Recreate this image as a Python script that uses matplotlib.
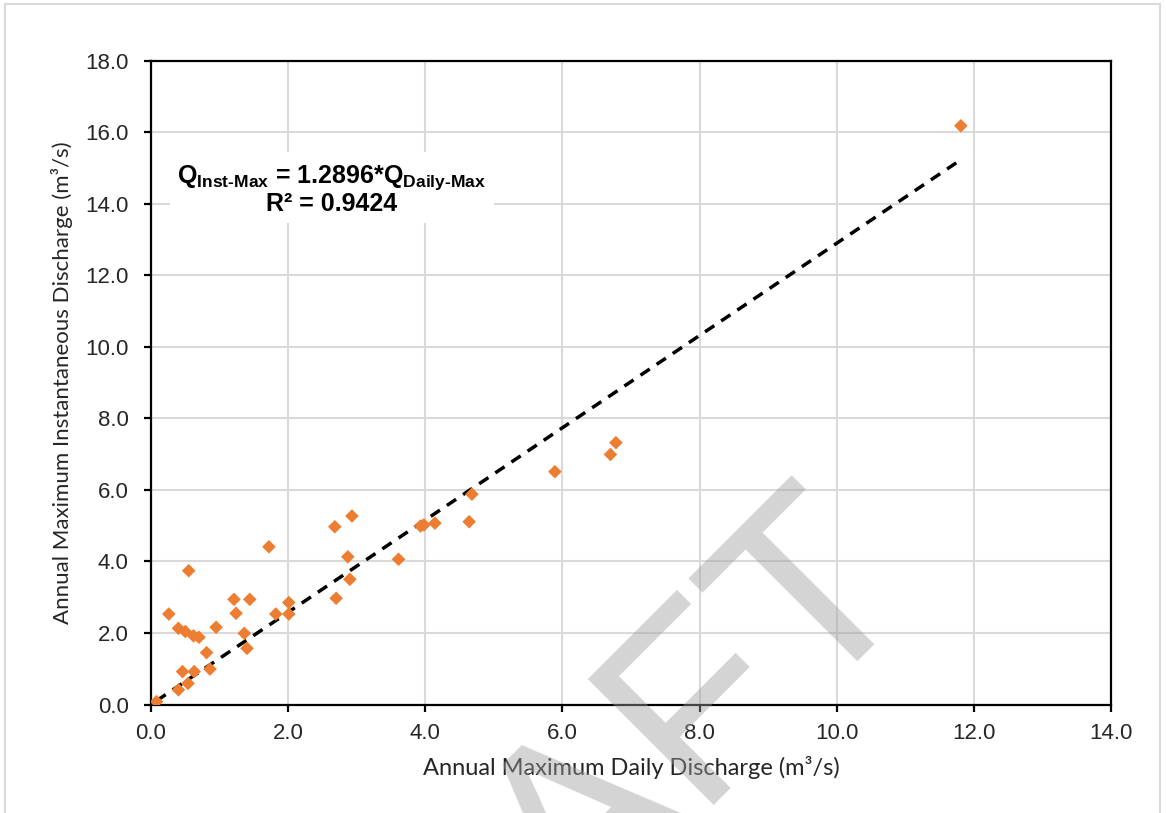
#!/usr/bin/env python3

import numpy as np
import matplotlib
matplotlib.use("Agg")
import matplotlib.pyplot as plt
from matplotlib.patches import Rectangle

# annual maxima (m3/s)
daily_max = [0.08, 0.26, 0.55, 0.40, 0.50, 0.62, 0.70, 0.95, 0.81, 0.46,
             0.63, 0.86, 0.40, 0.54, 1.72, 1.21, 1.44, 1.24, 1.36, 1.40,
             1.82, 2.01, 2.01, 2.68, 2.70, 2.93, 2.87, 2.90, 3.61, 3.93,
             3.98, 4.14, 4.64, 4.68, 5.89, 6.70, 6.78, 11.81]
inst_max = [0.08, 2.53, 3.74, 2.13, 2.04, 1.92, 1.88, 2.16, 1.45, 0.92,
            0.92, 0.99, 0.41, 0.59, 4.41, 2.94, 2.94, 2.55, 1.99, 1.57,
            2.53, 2.85, 2.53, 4.97, 2.97, 5.27, 4.13, 3.50, 4.06, 4.99,
            5.02, 5.07, 5.11, 5.88, 6.51, 6.99, 7.32, 16.18]
slope = 1.2896
r2 = 0.9424

x_ticks = np.arange(0, 14.1, 2.0)
y_ticks = np.arange(0, 18.1, 2.0)

plt.rcParams['mathtext.fontset'] = 'custom'
plt.rcParams['mathtext.rm'] = 'Liberation Sans:bold'
plt.rcParams['mathtext.bf'] = 'Liberation Sans:bold'

fig = plt.figure(figsize=(11.66, 8.13), dpi=100)
ax = fig.add_axes([151 / 1166, 1 - 704.5 / 813, 960 / 1166, 643.8 / 813])

ax.set_xlim(0, 14)
ax.set_ylim(0, 18)
ax.set_xticks(x_ticks)
ax.set_yticks(y_ticks)
ax.set_xticklabels([f"{v:.1f}" for v in x_ticks])
ax.set_yticklabels([f"{v:.1f}" for v in y_ticks])
ax.grid(True, color='#d9d9d9', linewidth=1.5, zorder=0)
ax.set_axisbelow(True)
for s in ax.spines.values():
    s.set_linewidth(1.6)
    s.set_color('black')
ax.tick_params(axis='both', direction='out', length=5, width=1.6,
               labelsize=16, labelcolor='#262626')
ax.tick_params(axis='x', pad=8)
ax.tick_params(axis='y', pad=11)
for lab in ax.get_xticklabels() + ax.get_yticklabels():
    lab.set_family('Liberation Sans')

# trendline through origin
xs = np.array([min(daily_max), max(daily_max)])
ax.plot(xs, slope * xs, color='black', linewidth=2.5, dashes=(3.2, 2.4), zorder=3)
ax.scatter(daily_max, inst_max, marker='D', s=48, color='#ED7D31',
           edgecolors='none', zorder=4)

ax.set_xlabel("Annual Maximum Daily Discharge (m³/s)", family='Lato',
              fontsize=17, color='#262626', labelpad=9)
ax.set_ylabel("Annual Maximum Instantaneous Discharge (m³/s)", family='Lato',
              fontsize=16, color='#262626', labelpad=9)

eq = (r"$\mathbf{Q_{Inst\text{-}Max}}$ = " + f"{slope:.4f}"
      + r"*$\mathbf{Q_{Daily\text{-}Max}}$" + "\n" + f"R² = {r2:.4f}")
ax.text(2.64, 14.4, eq, ha='center', va='center', fontsize=18,
        fontweight='bold', family='Liberation Sans', linespacing=0.98,
        zorder=5, bbox=dict(facecolor='white', edgecolor='none', pad=5))

# figure border
fig.patches.append(Rectangle((5 / 1166, -0.05), 1155 / 1166, 1.05 - 4 / 813,
                             transform=fig.transFigure, fill=False,
                             edgecolor='#d9d9d9', linewidth=1.5))

# watermark
fig.text(565 / 1166, 1 - 838 / 813, "DRAFT", fontsize=186, family='Liberation Sans',
         color='#9e9e9e', alpha=0.44, rotation=45, rotation_mode='anchor',
         ha='center', va='center', zorder=10)

fig.savefig("out.png", dpi=100)
